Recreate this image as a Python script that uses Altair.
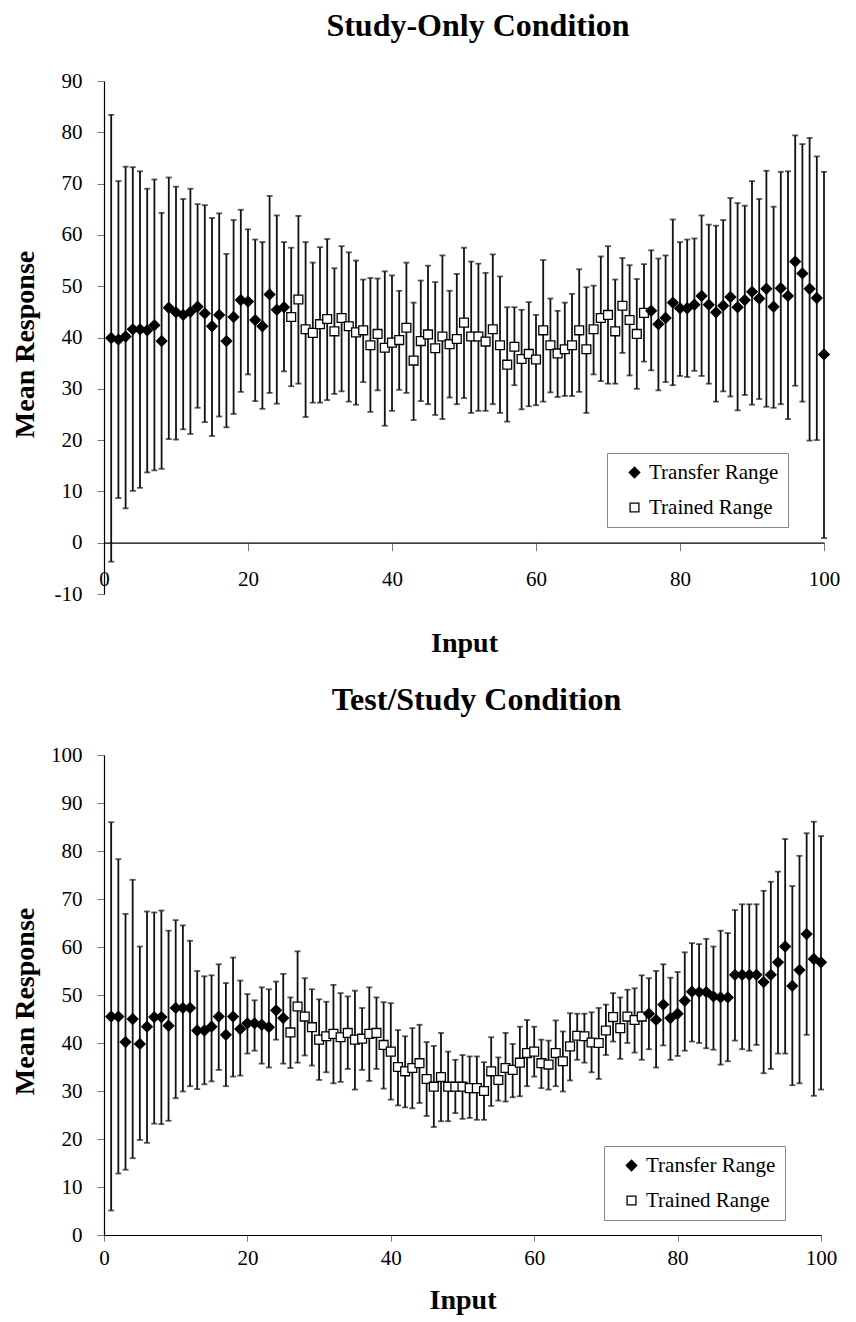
import altair as alt
import pandas as pd

FONT = "Liberation Serif"

inputs = list(range(1, 101))

# ---------- Study-Only Condition ----------
top_mean = [39.9, 39.6, 40.2, 41.6, 41.6, 41.4, 42.4, 39.3, 45.8, 44.9,
            44.4, 45.0, 46.0, 44.7, 42.2, 44.4, 39.3, 44.0, 47.3, 47.0,
            43.4, 42.2, 48.4, 45.4, 45.9, 44.0, 47.4, 41.6, 40.9, 42.6,
            43.6, 41.2, 43.8, 42.2, 41.0, 41.4, 38.5, 40.7, 38.0, 39.0,
            39.5, 41.9, 35.5, 39.3, 40.6, 37.9, 40.2, 38.7, 39.7, 42.9,
            40.2, 40.2, 39.2, 41.6, 38.5, 34.7, 38.2, 35.8, 36.8, 35.7,
            41.4, 38.5, 36.9, 37.7, 38.5, 41.4, 37.7, 41.6, 43.8, 44.4,
            41.2, 46.2, 43.4, 40.7, 44.8, 45.2, 42.6, 43.8, 46.8, 45.7,
            45.7, 46.4, 48.1, 46.4, 44.9, 46.2, 47.9, 45.9, 47.3, 48.9,
            47.6, 49.5, 46.0, 49.6, 48.1, 54.8, 52.5, 49.5, 47.7, 36.7]
top_hi = [83.4, 70.5, 73.3, 73.2, 72.4, 69.0, 70.8, 64.3, 71.2, 69.4,
          67.0, 69.0, 66.0, 65.8, 63.3, 64.2, 56.3, 62.9, 64.9, 61.1,
          59.1, 58.6, 67.6, 63.8, 58.6, 57.5, 63.7, 58.6, 54.6, 57.6,
          59.2, 53.5, 57.8, 56.6, 55.0, 51.3, 51.6, 51.5, 52.9, 52.1,
          49.1, 54.6, 46.8, 51.1, 54.0, 50.8, 56.0, 49.1, 52.4, 57.5,
          54.8, 54.4, 52.6, 56.2, 51.9, 45.9, 45.9, 45.4, 46.9, 44.4,
          55.1, 47.6, 45.2, 46.8, 48.5, 53.3, 49.8, 50.1, 55.8, 57.8,
          51.3, 55.5, 54.1, 51.4, 54.3, 57.0, 55.4, 56.0, 63.0, 58.6,
          59.1, 59.3, 63.8, 62.0, 61.8, 62.9, 67.2, 66.2, 65.7, 70.5,
          67.0, 72.5, 65.5, 72.3, 72.4, 79.4, 77.7, 78.9, 75.3, 72.3]
top_lo = [-3.7, 8.7, 6.7, 10.1, 10.7, 13.7, 14.1, 14.4, 20.2, 20.1,
          22.1, 21.2, 26.3, 23.5, 20.8, 24.6, 22.5, 25.1, 29.4, 32.8,
          27.6, 26.1, 29.2, 27.1, 33.4, 30.5, 31.0, 24.5, 27.3, 27.3,
          27.8, 29.0, 29.5, 27.5, 26.9, 31.3, 25.5, 29.7, 22.8, 25.7,
          29.8, 29.2, 23.9, 27.6, 27.0, 24.9, 24.1, 28.3, 27.0, 28.2,
          25.3, 25.7, 25.7, 27.0, 25.3, 23.6, 30.7, 26.0, 26.6, 26.8,
          27.5, 29.3, 28.4, 28.6, 28.6, 29.4, 25.3, 32.8, 31.5, 31.0,
          31.0, 37.0, 32.6, 30.0, 35.3, 33.6, 29.7, 31.3, 30.7, 32.5,
          32.3, 33.5, 32.5, 31.0, 27.5, 29.5, 28.5, 25.8, 28.8, 26.9,
          28.0, 26.5, 26.3, 27.0, 24.1, 30.6, 27.5, 19.9, 20.0, 0.9]

# ---------- Test/Study Condition ----------
bot_mean = [45.5, 45.5, 40.2, 45.0, 39.8, 43.4, 45.4, 45.4, 43.6, 47.3,
            47.3, 47.3, 42.6, 42.6, 43.4, 45.5, 41.7, 45.5, 42.9, 44.1,
            44.1, 43.8, 43.3, 46.8, 45.2, 42.2, 47.6, 45.5, 43.3, 40.7,
            41.4, 41.9, 41.2, 42.1, 40.7, 40.9, 41.9, 42.1, 39.6, 38.2,
            35.0, 34.1, 34.8, 35.8, 32.5, 30.9, 32.9, 30.9, 30.9, 30.9,
            30.6, 30.6, 30.0, 34.1, 32.3, 34.8, 34.4, 35.9, 37.9, 38.2,
            35.8, 35.5, 37.9, 36.2, 39.3, 41.5, 41.4, 40.1, 40.0, 42.6,
            45.4, 43.1, 45.5, 44.8, 45.5, 46.1, 44.8, 48.0, 45.2, 46.1,
            48.8, 50.7, 50.6, 50.6, 49.7, 49.5, 49.5, 54.2, 54.2, 54.2,
            54.2, 52.7, 54.2, 56.8, 60.1, 51.9, 55.2, 62.7, 57.5, 56.8]
bot_hi = [86.0, 78.3, 66.9, 74.0, 60.1, 67.4, 67.2, 67.6, 63.4, 65.6,
          64.5, 61.3, 55.0, 53.9, 54.1, 56.4, 52.5, 57.8, 53.0, 50.2,
          48.9, 51.6, 51.2, 52.8, 54.4, 49.5, 59.1, 53.5, 51.2, 49.1,
          48.6, 52.1, 50.4, 49.7, 50.9, 47.3, 51.6, 49.5, 48.5, 48.3,
          42.7, 41.4, 43.1, 43.8, 40.2, 39.4, 42.1, 38.2, 36.5, 37.5,
          37.2, 37.2, 36.0, 41.2, 37.0, 42.1, 39.8, 43.4, 44.8, 43.4,
          40.7, 40.5, 44.7, 42.4, 46.2, 46.1, 46.1, 46.4, 47.3, 48.0,
          50.4, 49.5, 51.1, 51.4, 54.1, 53.5, 55.0, 56.4, 53.6, 54.8,
          58.9, 60.8, 60.6, 61.7, 60.1, 63.4, 62.9, 67.7, 68.9, 68.9,
          68.9, 71.7, 73.6, 75.7, 82.5, 72.7, 79.0, 83.7, 86.1, 83.1]
bot_lo = [5.1, 12.8, 13.6, 16.0, 19.8, 19.2, 23.2, 23.1, 23.8, 28.5,
          29.9, 31.0, 30.4, 31.4, 32.0, 34.4, 31.0, 33.0, 33.2, 37.8,
          38.4, 35.7, 34.9, 40.7, 35.7, 34.8, 35.9, 37.4, 35.3, 32.3,
          33.9, 31.6, 31.9, 34.6, 30.3, 34.4, 32.1, 34.6, 30.5, 28.2,
          27.0, 26.6, 26.4, 27.5, 24.8, 22.5, 23.7, 23.7, 25.4, 24.2,
          24.4, 24.0, 24.0, 26.9, 28.0, 27.8, 28.7, 28.9, 31.0, 33.0,
          30.6, 30.3, 31.0, 29.9, 32.2, 36.5, 35.9, 33.9, 32.5, 37.5,
          40.3, 36.7, 40.0, 38.0, 36.5, 38.7, 34.9, 39.5, 36.5, 37.3,
          38.4, 40.3, 40.0, 38.9, 38.6, 35.5, 36.2, 40.5, 38.7, 38.4,
          39.6, 33.7, 34.6, 37.8, 37.8, 31.2, 31.6, 41.7, 29.0, 30.3]

range_names = ["Transfer Range", "Trained Range"]
range_shapes = ["diamond", "square"]
range_fills = ["black", "white"]
range_strokes = ["black", "black"]
range_sizes = [110, 78]
top_ticks_y = [-10, 0, 10, 20, 30, 40, 50, 60, 70, 80, 90]
bot_ticks_y = [0, 10, 20, 30, 40, 50, 60, 70, 80, 90, 100]
ticks_x = [0, 20, 40, 60, 80, 100]


def make_df(mean, lo, hi):
    rng = [range_names[0] if (i <= 25 or i >= 76) else range_names[1] for i in inputs]
    return pd.DataFrame({"input": inputs, "mean": mean, "lo": lo, "hi": hi, "range": rng})


def panel(df, title, ydom, yticks, w, h, x_offset, x_tick, x_labpad, x_titlepad,
          ytitle_y, legend_x, legend_y):
    xs = alt.Scale(domain=[0, 100], nice=False, zero=False)
    ys = alt.Scale(domain=ydom, nice=False, zero=False)
    x_axis = alt.Axis(values=ticks_x, grid=False, offset=x_offset, tickSize=x_tick,
                      tickColor="#777", domainColor="black", domainWidth=1.2,
                      labelFont=FONT, labelFontSize=21, labelColor="black",
                      labelPadding=x_labpad, labelFlush=False,
                      titleFont=FONT, titleFontSize=28, titleFontWeight="bold",
                      titleColor="black", titlePadding=x_titlepad)
    y_axis = alt.Axis(values=yticks, grid=False, tickSize=7, tickColor="#777",
                      domainColor="black", domainWidth=1.2,
                      labelFont=FONT, labelFontSize=21, labelColor="black",
                      labelPadding=15, labelFlush=False,
                      labelExpr="datum.value < 0 ? '-' + abs(datum.value) : datum.label",
                      titleFont=FONT, titleFontSize=28, titleFontWeight="bold",
                      titleColor="black", titleX=-79, titleY=ytitle_y,
                      titleAlign="center", titleBaseline="middle", titleAngle=270)
    base = alt.Chart(df)
    bars = base.mark_rule(color="#111", strokeWidth=1.8).encode(
        x=alt.X("input:Q", scale=xs, axis=x_axis, title="Input"),
        y=alt.Y("lo:Q", scale=ys, axis=y_axis, title="Mean Response"),
        y2="hi:Q",
    )
    cap_hi = base.mark_tick(orient="horizontal", size=6, thickness=1.8, color="#111").encode(
        x="input:Q", y="hi:Q")
    cap_lo = base.mark_tick(orient="horizontal", size=6, thickness=1.8, color="#111").encode(
        x="input:Q", y="lo:Q")
    legend = alt.Legend(orient="none", legendX=legend_x, legendY=legend_y, title=None,
                        strokeColor="#888", padding=9, labelFont=FONT, labelFontSize=21,
                        labelColor="black", symbolStrokeColor="black",
                        symbolStrokeWidth=1.3, rowPadding=13,
                        labelOffset=4, symbolOffset=8, fillColor="white")
    pts = base.mark_point(filled=True, strokeWidth=1.3, opacity=1).encode(
        x="input:Q",
        y="mean:Q",
        shape=alt.Shape("range:N", scale=alt.Scale(domain=range_names, range=range_shapes), legend=legend),
        fill=alt.Fill("range:N", scale=alt.Scale(domain=range_names, range=range_fills), legend=legend),
        stroke=alt.Stroke("range:N", scale=alt.Scale(domain=range_names, range=range_strokes), legend=legend),
        size=alt.Size("range:N", scale=alt.Scale(domain=range_names, range=range_sizes), legend=legend),
    )
    return alt.layer(bars, cap_hi, cap_lo, pts).properties(
        width=w, height=h,
        title=alt.TitleParams(title, font=FONT, fontSize=32, fontWeight="bold", color="black",
                              anchor="middle", dx=14, offset=27),
    )


top = panel(make_df(top_mean, top_lo, top_hi), "Study-Only Condition", [-10, 90], top_ticks_y,
            720, 513, -51.3, 8, 18, 40, 263, 503, 372)
bot = panel(make_df(bot_mean, bot_lo, bot_hi), "Test/Study Condition", [0, 100], bot_ticks_y,
            717, 480, 0, 6, 6, 18, 246, 500, 391)

chart = alt.vconcat(top, bot, spacing=26).properties(
    padding={"left": 3, "top": 2, "right": 5, "bottom": 2}
).configure_view(stroke=None).configure_legend(
    labelFont=FONT, labelFontSize=21
).resolve_scale(
    shape="independent", fill="independent", stroke="independent", size="independent"
).resolve_legend(shape="independent", fill="independent", stroke="independent", size="independent")

chart.save("out.html", embed_options={"renderer": "svg", "actions": False})
